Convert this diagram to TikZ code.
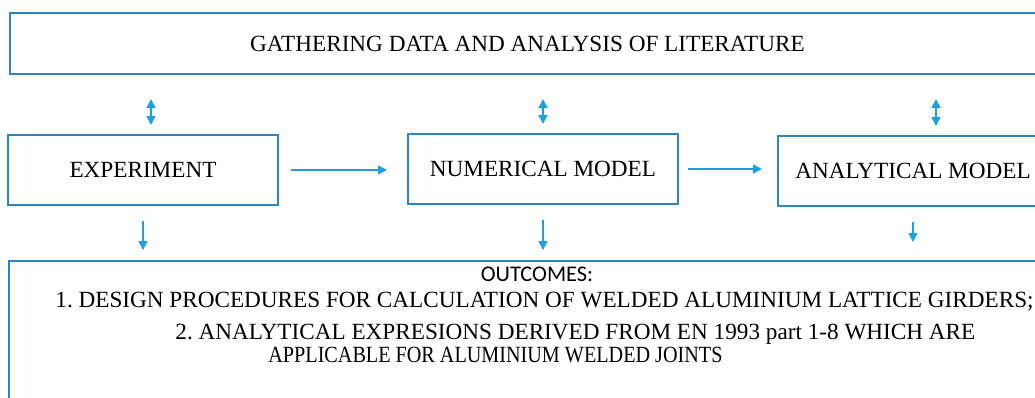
\documentclass[tikz,border=0pt]{standalone}
\usepackage{fontspec}
\setmainfont{Liberation Serif}
\newfontfamily\outfont{Carlito}
\usetikzlibrary{arrows.meta, calc}

\definecolor{boxblue}{RGB}{46,134,193}
\definecolor{arrowblue}{RGB}{27,161,226}

\begin{document}
\begin{tikzpicture}[x=0.5pt, y=-0.5pt,
    box/.style={draw=boxblue, line width=1pt, minimum width=135pt, minimum height=35pt, font=\fontsize{11.6}{13}\selectfont, align=center},
    wide/.style={box, minimum width=517.5pt, minimum height=30.5pt},
    link/.style={draw=arrowblue, line width=0.8pt, -{Triangle[length=4.5pt, width=4.5pt]}},
    dbl/.style={link, {Triangle[length=4.5pt, width=4.5pt]}-{Triangle[length=4.5pt, width=4.5pt]}},
    item/.style={inner sep=0pt, anchor=base west, font=\fontsize{11.6}{13}\selectfont},
]
    \useasboundingbox (0,0) rectangle (1035,397);

    % boxes
    \node[wide] (lit) at (527.5,43.5) {GATHERING DATA AND ANALYSIS OF LITERATURE};
    \node[box] (exp) at (143,170) {EXPERIMENT};
    \node[box] (num) at (543,169) {NUMERICAL MODEL};
    \node[box] (ana) at (913,171) {ANALYTICAL MODEL};
    \node[box, minimum width=533pt, minimum height=84.5pt] (out) at (542,345.5) {};

    % outcomes
    \node[font=\outfont\fontsize{11.2}{12}\selectfont, anchor=base, inner sep=0pt] (outhead) at (537,281) {OUTCOMES:};
    \node[item] (res1) at (55,307) {1.\ DESIGN PROCEDURES FOR CALCULATION OF WELDED ALUMINIUM LATTICE GIRDERS;};
    \node[item] (res2) at (175,339) {2.\ ANALYTICAL EXPRESIONS DERIVED FROM EN 1993 part 1-8 WHICH ARE};
    \node[item] (res3) at (268,362) {\scalebox{0.87}[1]{APPLICABLE FOR ALUMINIUM WELDED JOINTS}};

    % literature <-> models
    \draw[dbl] ($(lit.south -| exp.north)+(4pt,-12pt)$) -- ($(exp.north)+(4pt,4.5pt)$);
    \draw[dbl] ($(lit.south -| num.north)+(0pt,-12pt)$) -- ($(num.north)+(0pt,4.5pt)$);
    \draw[dbl] ($(lit.south -| ana.north)+(11.5pt,-12pt)$) -- ($(ana.north)+(11.5pt,4.5pt)$);

    % flow between models
    \draw[link, shorten <=6pt, shorten >=10pt] (exp.east) -- (exp.east -| num.west);
    \draw[link, shorten <=4.5pt, shorten >=7.5pt] (num.east) -- (num.east -| ana.west);

    % models -> outcomes
    \draw[link, shorten <=7.5pt, shorten >=5pt] (exp.south) -- (exp.south |- out.north);
    \draw[link, shorten <=7.5pt, shorten >=5pt] (num.south) -- (num.south |- out.north);
    \draw[link, shorten <=7.5pt, shorten >=9pt] (ana.south) -- (ana.south |- out.north);
\end{tikzpicture}
\end{document}
